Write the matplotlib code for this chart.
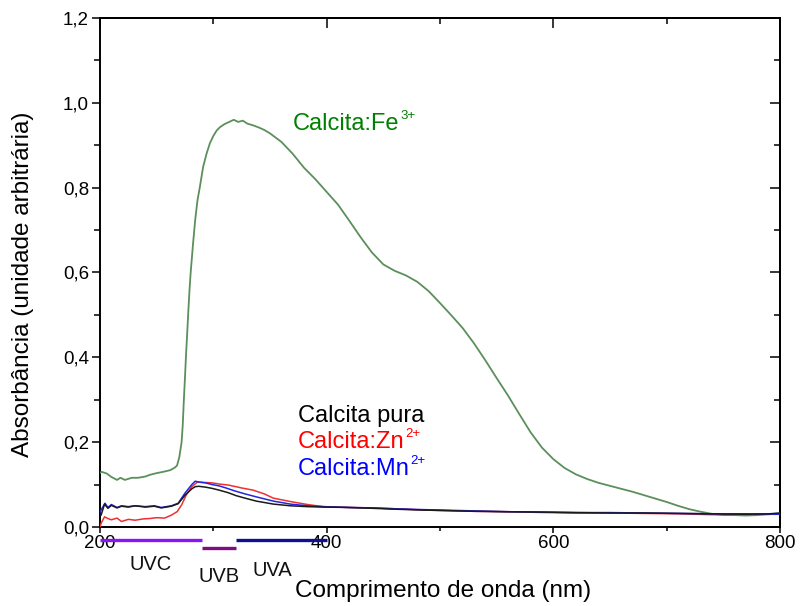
import matplotlib
matplotlib.use("Agg")
import matplotlib.pyplot as plt
from matplotlib.ticker import MultipleLocator, FuncFormatter, NullFormatter
from matplotlib.transforms import blended_transform_factory

plt.rcParams["font.family"] = ["Liberation Sans", "DejaVu Sans"]

# ---- spectra (wavelength in nm, absorbance in arbitrary units) ----
fe_nm = [200, 201.5, 206, 210, 215, 218, 222, 228, 233.5, 240, 244, 250, 255.6,
         262, 266, 268, 270, 272, 273, 274, 275, 276, 277, 278, 279, 280, 281,
         282, 284, 286, 288, 291, 294, 297, 300, 303, 306, 310, 314, 318, 322,
         326, 330, 335, 340, 345, 350, 360, 370, 380, 390, 400, 410, 420, 430,
         440, 450, 460, 470, 480, 490, 500, 510, 520, 530, 540, 550, 560, 570,
         580, 590, 600, 610, 620, 630, 640, 650, 660, 670, 680, 690, 700, 710,
         720, 730, 740, 750, 760, 770, 780, 790, 800]
fe_abs = [0.128, 0.130, 0.126, 0.118, 0.111, 0.116, 0.111, 0.116, 0.116, 0.119,
          0.123, 0.127, 0.130, 0.134, 0.140, 0.145, 0.165, 0.200, 0.240, 0.300,
          0.354, 0.410, 0.460, 0.512, 0.560, 0.600, 0.632, 0.665, 0.724, 0.770,
          0.800, 0.849, 0.880, 0.905, 0.922, 0.935, 0.943, 0.950, 0.955, 0.960,
          0.955, 0.958, 0.951, 0.947, 0.942, 0.936, 0.928, 0.908, 0.880, 0.847,
          0.820, 0.790, 0.760, 0.722, 0.683, 0.647, 0.619, 0.604, 0.593, 0.578,
          0.556, 0.528, 0.499, 0.469, 0.433, 0.393, 0.351, 0.310, 0.266, 0.223,
          0.187, 0.160, 0.139, 0.124, 0.113, 0.104, 0.097, 0.090, 0.083, 0.075,
          0.067, 0.059, 0.050, 0.042, 0.036, 0.031, 0.028, 0.028, 0.027, 0.028,
          0.030, 0.032]

pura_nm = [200, 201, 204, 207, 210, 215, 219, 225, 231, 240, 248, 254, 263, 269,
           275, 281, 284, 287, 293, 299, 305, 313, 320, 328, 338, 353, 368, 383,
           397, 420, 441, 460, 485, 500, 530, 560, 594, 620, 650, 680, 712, 740,
           770, 790, 800]
pura_abs = [0.030, 0.028, 0.054, 0.044, 0.051, 0.045, 0.049, 0.047, 0.050, 0.047,
            0.049, 0.045, 0.049, 0.055, 0.075, 0.090, 0.095, 0.096, 0.094, 0.091,
            0.087, 0.081, 0.074, 0.068, 0.061, 0.054, 0.050, 0.048, 0.047, 0.046,
            0.044, 0.042, 0.040, 0.039, 0.037, 0.036, 0.035, 0.034, 0.033, 0.033,
            0.032, 0.031, 0.030, 0.031, 0.033]

mn_nm = [200, 202, 204.4, 207, 210, 215, 219, 225, 231, 240, 248, 254, 263, 269,
         275, 281, 284, 287, 293, 299, 305, 310, 319, 328, 338, 353, 368, 383,
         397, 420, 441, 460, 485, 500, 530, 560, 594, 620, 650, 680, 712, 740,
         770, 790, 800]
mn_abs = [0.035, 0.045, 0.056, 0.046, 0.053, 0.046, 0.050, 0.048, 0.050, 0.048,
          0.050, 0.046, 0.050, 0.056, 0.080, 0.100, 0.108, 0.106, 0.104, 0.100,
          0.097, 0.093, 0.085, 0.078, 0.071, 0.061, 0.054, 0.050, 0.048, 0.046,
          0.045, 0.043, 0.041, 0.040, 0.038, 0.036, 0.035, 0.034, 0.034, 0.033,
          0.032, 0.031, 0.031, 0.030, 0.030]

zn_nm = [200, 201, 204, 207, 210, 215, 219, 225, 231, 238, 244, 250, 257, 263,
         268, 272, 276, 281, 286, 292, 299, 306, 313, 320, 325, 335, 345, 353,
         368, 383, 397, 420, 441, 460, 485, 500, 530, 560, 594, 620, 650, 680,
         712, 740, 770, 790, 800]
zn_abs = [0.000, 0.009, 0.024, 0.020, 0.017, 0.021, 0.013, 0.018, 0.016, 0.019,
          0.020, 0.022, 0.021, 0.028, 0.036, 0.052, 0.075, 0.095, 0.106, 0.105,
          0.104, 0.101, 0.099, 0.095, 0.092, 0.087, 0.078, 0.068, 0.060, 0.053,
          0.048, 0.046, 0.045, 0.043, 0.040, 0.039, 0.037, 0.036, 0.034, 0.033,
          0.033, 0.032, 0.031, 0.029, 0.030, 0.031, 0.030]

# ---- UV bands ----
uv_names = ["UVC", "UVB", "UVA"]
uv_start = [200, 290, 320]
uv_end = [290, 320, 400]
uv_label_nm = [245, 305, 352]

fig = plt.figure(figsize=(8, 6.06), dpi=100)
ax = fig.add_axes([100 / 800, 1 - 527 / 606, 680 / 800, 509 / 606])

ax.plot(fe_nm, fe_abs, color="#5b8f5b", lw=1.3, zorder=3)
ax.plot(zn_nm, zn_abs, color="#ee3030", lw=1.1, zorder=3)
ax.plot(mn_nm, mn_abs, color="#2525e0", lw=1.1, zorder=4)
ax.plot(pura_nm, pura_abs, color="#1a1a1a", lw=1.1, zorder=4)

ax.set_xlim(200, 800)
ax.set_ylim(0, 1.2)

ax.xaxis.set_major_locator(MultipleLocator(200))
ax.xaxis.set_minor_locator(MultipleLocator(100))
ax.yaxis.set_major_locator(MultipleLocator(0.2))
ax.yaxis.set_minor_locator(MultipleLocator(0.1))
ax.xaxis.set_major_formatter(FuncFormatter(lambda v, p: f"{v:.0f}"))
ax.yaxis.set_major_formatter(FuncFormatter(lambda v, p: f"{v:.1f}".replace(".", ",")))

for s in ax.spines.values():
    s.set_linewidth(1.4)

ax.tick_params(axis="x", which="major", direction="out", length=4.5, width=1.1,
               pad=1.5, labelsize=13.5)
ax.tick_params(axis="x", which="minor", direction="out", length=3.2, width=1.1)
ax.tick_params(axis="y", which="major", direction="out", length=5.5, width=1.1,
               pad=2.5, labelsize=13.5)
ax.tick_params(axis="y", which="minor", direction="out", length=4, width=1.1)

# inward ticks on the top and right frame
top = ax.secondary_xaxis("top")
top.xaxis.set_major_locator(MultipleLocator(200))
top.xaxis.set_minor_locator(MultipleLocator(100))
top.xaxis.set_major_formatter(NullFormatter())
top.tick_params(which="major", direction="in", length=7.5, width=1.1)
top.tick_params(which="minor", direction="in", length=4.5, width=1.1)
top.spines["top"].set_linewidth(1.4)

right = ax.secondary_yaxis("right")
right.yaxis.set_major_locator(MultipleLocator(0.2))
right.yaxis.set_minor_locator(MultipleLocator(0.1))
right.yaxis.set_major_formatter(NullFormatter())
right.tick_params(which="major", direction="in", length=7.5, width=1.1)
right.tick_params(which="minor", direction="in", length=4.5, width=1.1)
right.spines["right"].set_linewidth(1.4)

# UV band markers below the wavelength axis
blend = blended_transform_factory(ax.transData, fig.transFigure)
bar_colors = ["#8a14f5", "#820a82", "#0f0f96"]
bar_y = [1 - 539.5 / 606, 1 - 548 / 606, 1 - 539.5 / 606]
label_y = [1 - 564 / 606, 1 - 577 / 606, 1 - 570 / 606]
for name, a, b, lx, c, by, ly in zip(uv_names, uv_start, uv_end, uv_label_nm,
                                     bar_colors, bar_y, label_y):
    ax.plot([a, b], [by, by], transform=blend, color=c, lw=2.4,
            solid_capstyle="butt", clip_on=False, zorder=6)
    ax.text(lx, ly, name, transform=blend, ha="center", va="center",
            fontsize=14.5, color="#111111")

fig.text(443 / 800, 1 - 591 / 606, "Comprimento de onda (nm)", ha="center",
         va="center", fontsize=17.5)
fig.text(23 / 800, 1 - 284 / 606, "Absorbância (unidade arbitrária)", ha="center",
         va="center", rotation=90, fontsize=17.5)


def ion_label(x, y, base, sup, color):
    t = ax.text(x, y, base, color=color, fontsize=17, ha="left", va="baseline",
                zorder=5)
    ax.annotate(sup, xy=(1, 0), xycoords=t, xytext=(0.4, 11.4),
                textcoords="offset points", color=color, fontsize=9.5,
                ha="left", va="baseline")
    return t


ion_label(370.5, 0.936, "Calcita:Fe", "3+", "#008000")
ax.text(374.5, 0.248, "Calcita pura", color="black", fontsize=17, ha="left",
        va="baseline")
ion_label(374.5, 0.187, "Calcita:Zn", "2+", "#ff0000")
ion_label(374.5, 0.1226, "Calcita:Mn", "2+", "#0000ff")

fig.savefig("out.png", dpi=100)
